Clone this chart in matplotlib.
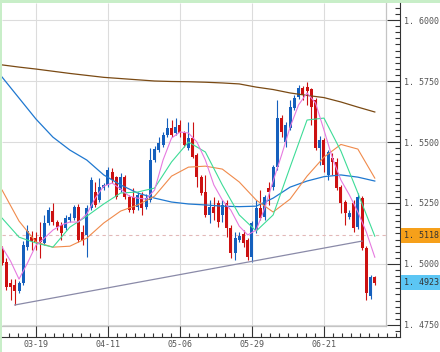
import numpy as np
import matplotlib
matplotlib.use('Agg')
import matplotlib.pyplot as plt
from matplotlib.patches import Rectangle
from matplotlib.transforms import blended_transform_factory

# daily candles, one per trading day (index 0 = 03-07)
opens = [1.5057, 1.5008, 1.4922, 1.4914, 1.4889, 1.4922, 1.5069, 1.5110, 1.5106, 1.5110,
         1.5086, 1.5168, 1.5217, 1.5172, 1.5160, 1.5147, 1.5180, 1.5188, 1.5233, 1.5131,
         1.5119, 1.5229, 1.5295, 1.5262, 1.5311, 1.5324, 1.5377, 1.5356, 1.5303, 1.5356,
         1.5274, 1.5274, 1.5233, 1.5283, 1.5233, 1.5262, 1.5426, 1.5467, 1.5488, 1.5529,
         1.5557, 1.5537, 1.5570, 1.5537, 1.5475, 1.5516, 1.5447, 1.5356, 1.5295, 1.5201,
         1.5233, 1.5250, 1.5201, 1.5250, 1.5147, 1.5045, 1.5098, 1.5123, 1.5098, 1.5028,
         1.5139, 1.5229, 1.5192, 1.5311, 1.5315, 1.5397, 1.5598, 1.5500, 1.5557, 1.5639,
         1.5684, 1.5721, 1.5725, 1.5717, 1.5672, 1.5475, 1.5508, 1.5365, 1.5434, 1.5418,
         1.5315, 1.5254, 1.5192, 1.5250, 1.5151, 1.5270, 1.5065, 1.4868, 1.4946]
highs = [1.5073, 1.5024, 1.4938, 1.4938, 1.4930, 1.5094, 1.5160, 1.5135, 1.5131, 1.5172,
         1.5201, 1.5233, 1.5250, 1.5180, 1.5172, 1.5201, 1.5209, 1.5242, 1.5246, 1.5160,
         1.5242, 1.5356, 1.5336, 1.5352, 1.5332, 1.5397, 1.5393, 1.5360, 1.5373, 1.5365,
         1.5283, 1.5311, 1.5295, 1.5295, 1.5287, 1.5475, 1.5483, 1.5520, 1.5541, 1.5598,
         1.5590, 1.5598, 1.5590, 1.5545, 1.5582, 1.5582, 1.5455, 1.5365, 1.5365, 1.5262,
         1.5274, 1.5262, 1.5262, 1.5262, 1.5160, 1.5131, 1.5131, 1.5139, 1.5106, 1.5176,
         1.5262, 1.5303, 1.5283, 1.5336, 1.5406, 1.5672, 1.5611, 1.5582, 1.5672, 1.5692,
         1.5733, 1.5729, 1.5746, 1.5721, 1.5680, 1.5524, 1.5516, 1.5467, 1.5455, 1.5434,
         1.5324, 1.5262, 1.5221, 1.5262, 1.5291, 1.5278, 1.5073, 1.4955, 1.4950]
lows = [1.4996, 1.4893, 1.4852, 1.4832, 1.4881, 1.4914, 1.5057, 1.5057, 1.5057, 1.5024,
        1.5077, 1.5160, 1.5160, 1.5139, 1.5098, 1.5139, 1.5172, 1.5180, 1.5090, 1.5077,
        1.5028, 1.5221, 1.5233, 1.5254, 1.5303, 1.5315, 1.5332, 1.5266, 1.5295, 1.5266,
        1.5213, 1.5209, 1.5221, 1.5201, 1.5225, 1.5254, 1.5418, 1.5459, 1.5479, 1.5520,
        1.5520, 1.5529, 1.5520, 1.5479, 1.5467, 1.5434, 1.5315, 1.5283, 1.5192, 1.5168,
        1.5180, 1.5151, 1.5172, 1.5110, 1.5024, 1.5016, 1.5090, 1.5069, 1.5016, 1.5008,
        1.5127, 1.5180, 1.5180, 1.5242, 1.5303, 1.5385, 1.5520, 1.5479, 1.5549, 1.5631,
        1.5676, 1.5672, 1.5652, 1.5570, 1.5467, 1.5406, 1.5377, 1.5344, 1.5365, 1.5303,
        1.5209, 1.5160, 1.5184, 1.5131, 1.5143, 1.5057, 1.4852, 1.4856, 1.4914]
closes = [1.5004, 1.4905, 1.4905, 1.4889, 1.4922, 1.5077, 1.5135, 1.5094, 1.5090, 1.5090,
          1.5168, 1.5221, 1.5172, 1.5151, 1.5127, 1.5188, 1.5192, 1.5233, 1.5098, 1.5098,
          1.5229, 1.5344, 1.5242, 1.5315, 1.5324, 1.5385, 1.5344, 1.5274, 1.5356, 1.5274,
          1.5221, 1.5221, 1.5283, 1.5229, 1.5270, 1.5426, 1.5471, 1.5496, 1.5529, 1.5557,
          1.5529, 1.5561, 1.5537, 1.5488, 1.5516, 1.5438, 1.5356, 1.5291, 1.5201, 1.5233,
          1.5209, 1.5172, 1.5242, 1.5147, 1.5045, 1.5106, 1.5114, 1.5086, 1.5028, 1.5168,
          1.5229, 1.5188, 1.5274, 1.5295, 1.5397, 1.5598, 1.5541, 1.5570, 1.5643, 1.5680,
          1.5721, 1.5692, 1.5709, 1.5643, 1.5475, 1.5508, 1.5406, 1.5459, 1.5418, 1.5311,
          1.5250, 1.5209, 1.5209, 1.5147, 1.5274, 1.5065, 1.4881, 1.4946, 1.4923]

# moving averages, every 4th bar (pink one every 2nd bar)
ma_idx = list(range(0, 89, 4))
ma_long = [1.5816, 1.5807, 1.5799, 1.5790, 1.5781, 1.5773, 1.5765, 1.5760, 1.5755, 1.5750,
           1.5748, 1.5747, 1.5745, 1.5742, 1.5738, 1.5725, 1.5715, 1.5701, 1.5691, 1.5682,
           1.5664, 1.5643, 1.5623]
ma_blue = [1.5766, 1.5680, 1.5594, 1.5520, 1.5467, 1.5426, 1.5365, 1.5324, 1.5291, 1.5270,
           1.5254, 1.5246, 1.5242, 1.5237, 1.5235, 1.5237, 1.5270, 1.5315, 1.5340, 1.5358,
           1.5365, 1.5356, 1.5340]
ma_orange = [1.5303, 1.5176, 1.5090, 1.5069, 1.5073, 1.5106, 1.5168, 1.5217, 1.5242, 1.5278,
             1.5360, 1.5397, 1.5401, 1.5389, 1.5336, 1.5262, 1.5213, 1.5266, 1.5360, 1.5438,
             1.5490, 1.5471, 1.5352]
ma_green = [1.5188, 1.5110, 1.5086, 1.5069, 1.5151, 1.5196, 1.5246, 1.5291, 1.5295, 1.5311,
            1.5418, 1.5500, 1.5459, 1.5324, 1.5201, 1.5135, 1.5201, 1.5397, 1.5590, 1.5598,
            1.5463, 1.5291, 1.5114]
pink_idx = list(range(0, 89, 2))
ma_pink = [1.5069, 1.5012, 1.4938, 1.5004, 1.5077, 1.5106, 1.5139, 1.5160, 1.5172, 1.5172,
           1.5205, 1.5270, 1.5319, 1.5332, 1.5307, 1.5278, 1.5270, 1.5266, 1.5303, 1.5426,
           1.5516, 1.5541, 1.5537, 1.5500, 1.5426, 1.5324, 1.5262, 1.5221, 1.5155, 1.5119,
           1.5139, 1.5229, 1.5340, 1.5447, 1.5561, 1.5652, 1.5701, 1.5660, 1.5549, 1.5434,
           1.5344, 1.5283, 1.5213, 1.5131, 1.5028]

trend_idx = [3, 85]
trend_val = [1.4832, 1.5094]

level_price = 1.5118
last_price = 1.4923

date_pos = [8, 25, 42, 59, 76]
date_labels = ['03-19', '04-11', '05-06', '05-29', '06-21']
price_ticks = [1.475, 1.500, 1.525, 1.550, 1.575, 1.600]

plt.rcParams['font.family'] = 'DejaVu Sans Mono'

fig = plt.figure(figsize=(4.4, 3.52), dpi=100, facecolor='#c8eec8')
fig.patches.append(Rectangle((2 / 440, 0), 1, 349 / 352, transform=fig.transFigure,
                             facecolor='white', edgecolor='none', zorder=-1))
ax = fig.add_axes([2 / 440, 15 / 352, 398 / 440, 334 / 352])

x0, x1 = -0.02, 93.95
y0, y1 = 1.47008, 1.60697
xr, yb = 90.65, 1.47459  # inner frame (plot region)
ax.set_xlim(x0, x1)
ax.set_ylim(y0, y1)

# grid + inner frame
ax.hlines(price_ticks, x0, xr, color='#dcdcdc', lw=0.8, zorder=1)
ax.vlines(date_pos, yb, y1, color='#dcdcdc', lw=0.8, zorder=1)
ax.plot([xr, xr], [yb, y1], color='#c4c4c4', lw=0.9, zorder=1)
ax.plot([x0, xr], [yb, yb], color='#c4c4c4', lw=0.9, zorder=1)
ax.hlines(level_price, x0, xr, color='#e2b8b8', lw=0.8, linestyles=(0, (3, 3)), zorder=1)

# candles
idx = np.arange(len(opens))
o = np.array(opens)
c = np.array(closes)
cols = np.where(c >= o, '#1560bd', '#cc1111')
ax.vlines(idx, lows, highs, colors=cols, lw=0.8, zorder=3)
ax.bar(idx, np.maximum(np.abs(c - o), 0.0003), bottom=np.minimum(o, c), width=0.72,
       color=cols, linewidth=0, zorder=3)

# indicators
ax.plot(ma_idx, ma_long, color='#7a4a14', lw=0.9, zorder=4)
ax.plot(ma_idx, ma_blue, color='#1f78d0', lw=0.9, zorder=4)
ax.plot(ma_idx, ma_orange, color='#f08a4b', lw=0.8, zorder=4)
ax.plot(ma_idx, ma_green, color='#3ddc97', lw=0.8, zorder=4)
ax.plot(pink_idx, ma_pink, color='#e67ae0', lw=0.8, zorder=4)
ax.plot(trend_idx, trend_val, color='#8a8aa8', lw=0.9, zorder=4)

# axes styling
for s in ['top', 'left']:
    ax.spines[s].set_visible(False)
for s in ['right', 'bottom']:
    ax.spines[s].set_color('#333333')
    ax.spines[s].set_linewidth(0.8)

ax.yaxis.tick_right()
ax.set_yticks(price_ticks)
ax.set_yticklabels([f'{v:.4f}'.replace('.', '. ') for v in price_ticks])
ax.set_yticks(np.arange(1.4725, 1.607, 0.0025), minor=True)
ax.set_xticks(date_pos)
ax.set_xticklabels(date_labels)
ax.set_xticks(np.arange(date_pos[0] - 3 * 2.125, x1, 2.125), minor=True)

ax.tick_params(axis='y', which='major', direction='in', length=9.4, width=0.8,
               color='#333333', labelsize=6, labelcolor='#555555', pad=3)
ax.tick_params(axis='y', which='minor', direction='in', length=3.6, width=0.8, color='#333333')
ax.tick_params(axis='x', which='major', direction='in', length=7.8, width=0.8,
               color='#333333', labelsize=6, labelcolor='#555555', pad=2)
ax.tick_params(axis='x', which='minor', direction='in', length=3, width=0.8, color='#333333')

# price tags on the right
tr = blended_transform_factory(ax.transAxes, ax.transData)
ax.text(1.010, level_price, f'{level_price:.4f}'.replace('.', '. '), transform=tr,
        fontsize=6, color='#333333', va='center', ha='left', clip_on=False,
        bbox=dict(boxstyle='square,pad=0.35', fc='#f6a01a', ec='none'))
ax.text(1.010, last_price, f'{last_price:.4f}'.replace('.', '. '), transform=tr,
        fontsize=6, color='#333333', va='center', ha='left', clip_on=False,
        bbox=dict(boxstyle='square,pad=0.35', fc='#5cc6f4', ec='none'))

plt.savefig('out.png', dpi=100, facecolor=fig.get_facecolor())
